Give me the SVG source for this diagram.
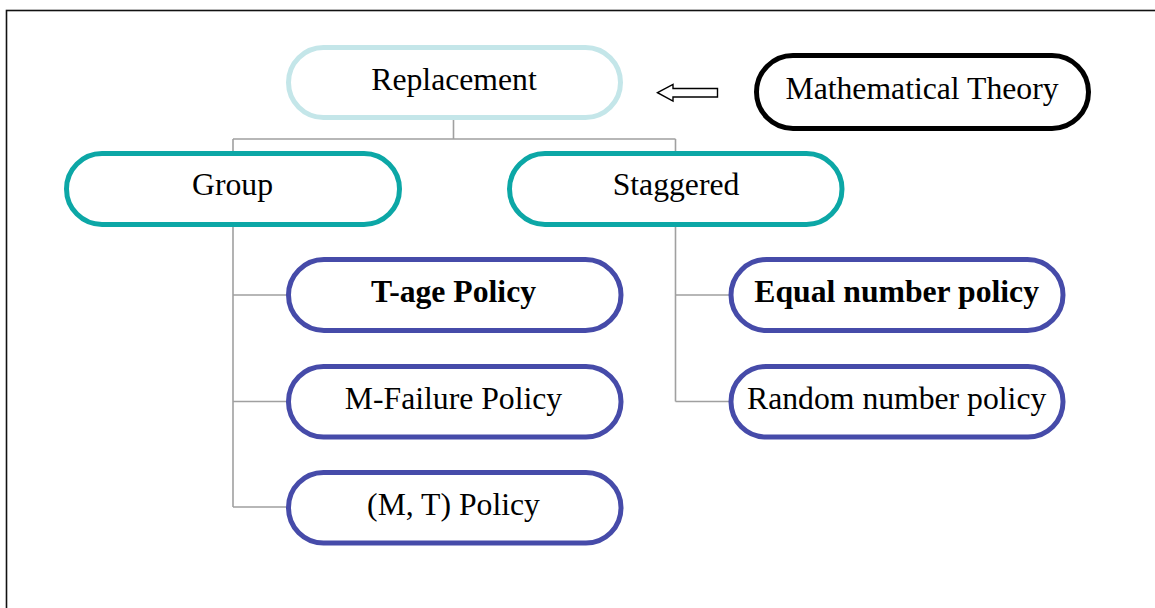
<svg xmlns="http://www.w3.org/2000/svg" width="1155" height="608" viewBox="0 0 1155 608">
  <style>
    .txt { font-family: "Liberation Serif", "Times New Roman", serif; font-size: 31.7px; fill: #000; text-anchor: middle; }
    .bold { font-weight: bold; }
    .pill { fill: #fff; stroke-width: 5; }
    .root { stroke: #c4e6e9; }
    .mid { stroke: #0ca7a6; }
    .leaf { stroke: #464ba9; }
    .theory { stroke: #000; }
    .conn { fill: none; stroke: #a0a0a0; stroke-width: 1.6; }
  </style>

  <!-- frame -->
  <rect x="6.5" y="10.5" width="1200" height="700" fill="#fff" stroke="#111" stroke-width="1.6"/>

  <!-- tree connectors -->
  <g id="connectors">
    <path class="conn" d="M453.5 120 V139 M233 139 H675.5 M233 139 V151 M675.5 139 V151"/>
    <path class="conn" d="M233 227 V507 M233 295 H286 M233 401.5 H286 M233 507 H286"/>
    <path class="conn" d="M675.5 227 V401.5 M675.5 295 H729 M675.5 401.5 H729"/>
    <!-- hollow arrow from Mathematical Theory to Replacement -->
    <path d="M657.5 92.7 L673 84.5 V88.5 H717.5 V97 H673 V101 Z" fill="#fff" stroke="#000" stroke-width="1.4" stroke-linejoin="miter"/>
  </g>

  <g id="node-replacement">
    <rect class="pill root" x="288.5" y="47.5" width="332" height="70" rx="35"/>
    <text class="txt" x="454" y="89.5">Replacement</text>
  </g>

  <g id="node-theory">
    <rect class="pill theory" x="756.5" y="55.5" width="332" height="73" rx="36.5"/>
    <text class="txt" x="922" y="99">Mathematical Theory</text>
  </g>

  <g id="node-group">
    <rect class="pill mid" x="66.5" y="153.5" width="333" height="71" rx="35.5"/>
    <text class="txt" x="232.5" y="195">Group</text>
  </g>

  <g id="node-staggered">
    <rect class="pill mid" x="509.5" y="153.5" width="332.5" height="71" rx="35.5"/>
    <text class="txt" x="676" y="195">Staggered</text>
  </g>

  <g id="node-tage">
    <rect class="pill leaf" x="288.5" y="259.5" width="332.5" height="71" rx="35.5"/>
    <text class="txt bold" x="453.5" y="302">T-age Policy</text>
  </g>

  <g id="node-mfailure">
    <rect class="pill leaf" x="288.5" y="366.5" width="332.5" height="70.5" rx="35"/>
    <text class="txt" x="453.5" y="408.5">M-Failure Policy</text>
  </g>

  <g id="node-mt">
    <rect class="pill leaf" x="288.5" y="472.5" width="332.5" height="70.5" rx="35"/>
    <text class="txt" x="453.5" y="515">(M, T) Policy</text>
  </g>

  <g id="node-equal">
    <rect class="pill leaf" x="731" y="259.5" width="332" height="71" rx="35.5"/>
    <text class="txt bold" x="896.7" y="302">Equal number policy</text>
  </g>

  <g id="node-random">
    <rect class="pill leaf" x="731" y="366.5" width="332" height="70.5" rx="35"/>
    <text class="txt" x="896.7" y="408.5">Random number policy</text>
  </g>
</svg>
